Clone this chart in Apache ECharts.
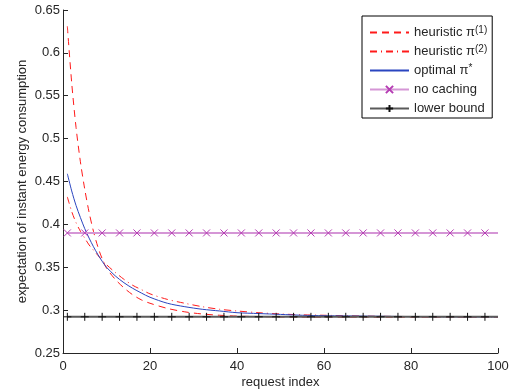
<!DOCTYPE html>
<html>
<head>
<meta charset="utf-8">
<script src="https://cdn.jsdelivr.net/npm/echarts@6/dist/echarts.min.js"></script>
<style>
  html, body { margin: 0; padding: 0; background: #fff; }
  #chart { width: 518px; height: 392px; }
</style>
</head>
<body>
<div id="chart"></div>
<script>
// sample positions of the smooth curves (request index)
const sampleX = [1, 2, 3, 4, 5, 6, 7, 8, 9, 10, 12, 14, 16, 18, 20, 24, 28, 32, 36, 40, 45, 50, 55, 60, 70, 80, 90, 100];

const heuristic1 = [0.631, 0.565, 0.513, 0.473, 0.441, 0.414, 0.392, 0.374, 0.360, 0.349, 0.336, 0.326, 0.318, 0.312, 0.308, 0.302, 0.298, 0.2955, 0.294, 0.293, 0.2925, 0.292, 0.2918, 0.2918, 0.2918, 0.2918, 0.2918, 0.2918];
const heuristic2 = [0.432, 0.415, 0.402, 0.392, 0.384, 0.376, 0.370, 0.364, 0.358, 0.353, 0.344, 0.336, 0.329, 0.324, 0.319, 0.3125, 0.308, 0.304, 0.301, 0.299, 0.297, 0.2955, 0.2945, 0.294, 0.293, 0.2925, 0.2922, 0.2921];
const optimal = [0.459, 0.439, 0.422, 0.408, 0.395, 0.384, 0.374, 0.365, 0.357, 0.350, 0.340, 0.332, 0.3255, 0.320, 0.315, 0.308, 0.304, 0.301, 0.299, 0.297, 0.296, 0.295, 0.294, 0.2935, 0.293, 0.2925, 0.2922, 0.2921];

// marker positions of the flat reference lines (last point closes the line)
const markerX = [1, 5, 9, 13, 17, 21, 25, 29, 33, 37, 41, 45, 49, 53, 57, 61, 65, 69, 73, 77, 81, 85, 89, 93, 97, 100];
const noCaching = 0.39;
const lowerBound = 0.2922;

const xTicks = [0, 20, 40, 60, 80, 100];

const seriesNames = ['heuristic π{sup|(1)}', 'heuristic π{sup|(2)}', 'optimal π{sup|*}', 'no caching', 'lower bound'];

const FONT = 'Liberation Sans, Arial, sans-serif';
const TEXT = '#262626';
// curves have no markers: a transparent filled circle keeps their legend icon a plain line
const HIDDEN_DOT = { color: 'rgba(0,0,0,0)', borderWidth: 0 };

function pairs(xs, ys) {
  return xs.map((x, i) => [x, ys[i]]);
}

function flatLine(value) {
  return markerX.map((x, i) => ({
    value: [x, value],
    symbol: i === markerX.length - 1 ? 'none' : undefined,
  }));
}

function curve(name, ys, color, type, z) {
  return {
    name,
    type: 'line',
    smooth: 0.3,
    symbol: 'circle',
    showSymbol: false,
    data: pairs(sampleX, ys),
    lineStyle: { color, width: 1, type },
    itemStyle: HIDDEN_DOT,
    z,
  };
}

const chart = echarts.init(document.getElementById('chart'), null, { renderer: 'canvas' });

chart.setOption({
  animation: false,
  backgroundColor: '#fff',
  textStyle: { fontFamily: FONT },
  grid: { left: 63, right: 20, top: 10, bottom: 39, outerBoundsMode: 'none' },
  legend: {
    orient: 'vertical',
    left: 362,
    top: 16,
    padding: [9, 5, 2, 7],
    itemWidth: 39,
    itemHeight: 9,
    itemGap: 4,
    borderColor: '#000',
    borderWidth: 1,
    backgroundColor: '#fff',
    selectedMode: false,
    data: seriesNames,
    textStyle: {
      fontFamily: FONT,
      fontSize: 13,
      lineHeight: 15,
      color: TEXT,
      rich: {
        sup: { fontFamily: FONT, fontSize: 10, lineHeight: 10, verticalAlign: 'top', color: TEXT },
      },
    },
  },
  xAxis: {
    type: 'value',
    min: 0,
    max: 100,
    interval: 20,
    name: 'request index',
    nameLocation: 'middle',
    nameGap: 23,
    nameMoveOverlap: false,
    nameTextStyle: { fontFamily: FONT, fontSize: 13, color: TEXT },
    axisLine: { lineStyle: { color: TEXT, width: 1 } },
    axisTick: { inside: true, length: 5, lineStyle: { color: TEXT } },
    axisLabel: { fontFamily: FONT, fontSize: 13, color: TEXT, margin: 7,
      customValues: xTicks },
    splitLine: { show: false },
  },
  yAxis: {
    type: 'value',
    min: 0.25,
    max: 0.65,
    interval: 0.05,
    name: 'expectation of instant energy consumption',
    nameLocation: 'middle',
    nameGap: 34,
    nameMoveOverlap: false,
    nameTextStyle: { fontFamily: FONT, fontSize: 13, color: TEXT },
    axisLine: { show: true, lineStyle: { color: TEXT, width: 1 } },
    axisTick: { show: true, inside: true, length: 5, lineStyle: { color: TEXT } },
    axisLabel: { fontFamily: FONT, fontSize: 13, color: TEXT, margin: 3,
      formatter: (v) => String(parseFloat(v.toFixed(2))) },
    splitLine: { show: false },
  },
  series: [
    curve(seriesNames[0], heuristic1, '#ff1a1a', [7, 5], 2),
    curve(seriesNames[1], heuristic2, '#ff1a1a', [7, 4, 1, 4], 3),
    curve(seriesNames[2], optimal, '#2a45c0', 'solid', 4),
    {
      name: seriesNames[3],
      type: 'line',
      symbol: 'path://M0,0L10,10M0,10L10,0',
      symbolSize: 7,
      data: flatLine(noCaching),
      lineStyle: { color: '#d596d6', width: 2 },
      itemStyle: { color: 'rgba(0,0,0,0)', borderColor: '#b53cb3', borderWidth: 1 },
      z: 5,
    },
    {
      name: seriesNames[4],
      type: 'line',
      symbol: 'path://M5,0L5,10M0,5L10,5',
      symbolSize: 8,
      data: flatLine(lowerBound),
      lineStyle: { color: '#5a5a5a', width: 2 },
      itemStyle: { color: 'rgba(0,0,0,0)', borderColor: '#111', borderWidth: 1 },
      z: 6,
    },
  ],
});
</script>
</body>
</html>
